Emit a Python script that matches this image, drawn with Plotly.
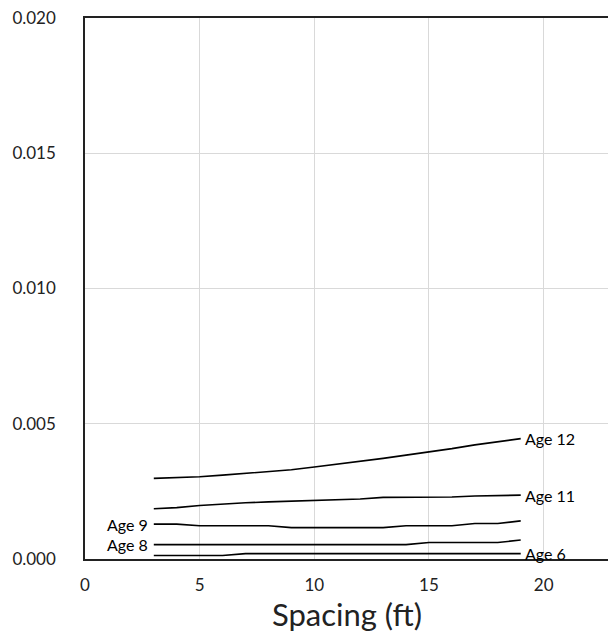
import plotly.graph_objects as go

spacing = [3, 4, 5, 6, 7, 8, 9, 10, 11, 12, 13, 14, 15, 16, 17, 18, 19]
age12 = [0.00298, 0.00301, 0.00304, 0.00310, 0.00317, 0.00323, 0.00330, 0.00340, 0.00350,
         0.00361, 0.00372, 0.00384, 0.00395, 0.00408, 0.00422, 0.00434, 0.00445]
age11 = [0.00186, 0.00190, 0.00198, 0.00204, 0.00208, 0.00211, 0.00214, 0.00216, 0.00219,
         0.00222, 0.00228, 0.00229, 0.00229, 0.00229, 0.00233, 0.00235, 0.00236]
age9 = [0.00129, 0.00129, 0.00123, 0.00123, 0.00123, 0.00123, 0.00116, 0.00116, 0.00116,
        0.00116, 0.00116, 0.00123, 0.00123, 0.00123, 0.00131, 0.00131, 0.00141]
age8 = [0.00053, 0.00053, 0.00053, 0.00053, 0.00053, 0.00053, 0.00053, 0.00053, 0.00053,
        0.00053, 0.00053, 0.00053, 0.00061, 0.00061, 0.00061, 0.00061, 0.00070]
age6 = [0.00013, 0.00013, 0.00013, 0.00013, 0.00020, 0.00020, 0.00020, 0.00020, 0.00020,
        0.00020, 0.00020, 0.00020, 0.00020, 0.00020, 0.00020, 0.00020, 0.00020]

series = [("Age 12", age12, "right"), ("Age 11", age11, "right"), ("Age 9", age9, "left"),
          ("Age 8", age8, "left"), ("Age 6", age6, "right")]

x_ticks = [0, 5, 10, 15, 20]
y_ticks = [0.000, 0.005, 0.010, 0.015, 0.020]

font = "Lato, 'Open Sans', sans-serif"
fig = go.Figure()
for name, vals, side in series:
    fig.add_trace(go.Scatter(x=spacing, y=vals, mode="lines", name=name,
                             line=dict(color="black", width=1.6), showlegend=False))
    if side == "right":
        fig.add_annotation(x=spacing[-1], y=vals[-1], text=name, showarrow=False,
                           xanchor="left", xshift=2, yanchor="middle",
                           font=dict(family=font, size=16, color="black"))
    else:
        fig.add_annotation(x=spacing[0], y=vals[0], text=name, showarrow=False,
                           xanchor="right", xshift=-4, yanchor="middle",
                           font=dict(family=font, size=16, color="black"))

fig.update_layout(
    width=608, height=635,
    margin=dict(l=77, r=7, t=10, b=84),
    paper_bgcolor="white", plot_bgcolor="white",
    font=dict(family=font, size=17, color="#222"),
)
fig.update_xaxes(range=[0, 22.85], tickvals=x_ticks, showgrid=True, gridcolor="#d9d9d9",
                 gridwidth=1, zeroline=False, showline=True, linecolor="#222", linewidth=1.5,
                 mirror=True, ticks="", ticklabelstandoff=10, automargin=False,
                 tickfont=dict(size=17), ticklabeloverflow="allow",
                 title=dict(text="Spacing (ft)", font=dict(size=31, color="#222"), standoff=8))
fig.update_yaxes(range=[0, 0.020], tickvals=y_ticks, tickformat=".3f", showgrid=True,
                 gridcolor="#d9d9d9", gridwidth=1, zeroline=False, showline=True,
                 linecolor="#222", linewidth=1.5, mirror=True, ticks="", automargin=False,
                 ticklabelstandoff=24, tickfont=dict(size=17), ticklabeloverflow="allow")

fig.write_html("out.html")
